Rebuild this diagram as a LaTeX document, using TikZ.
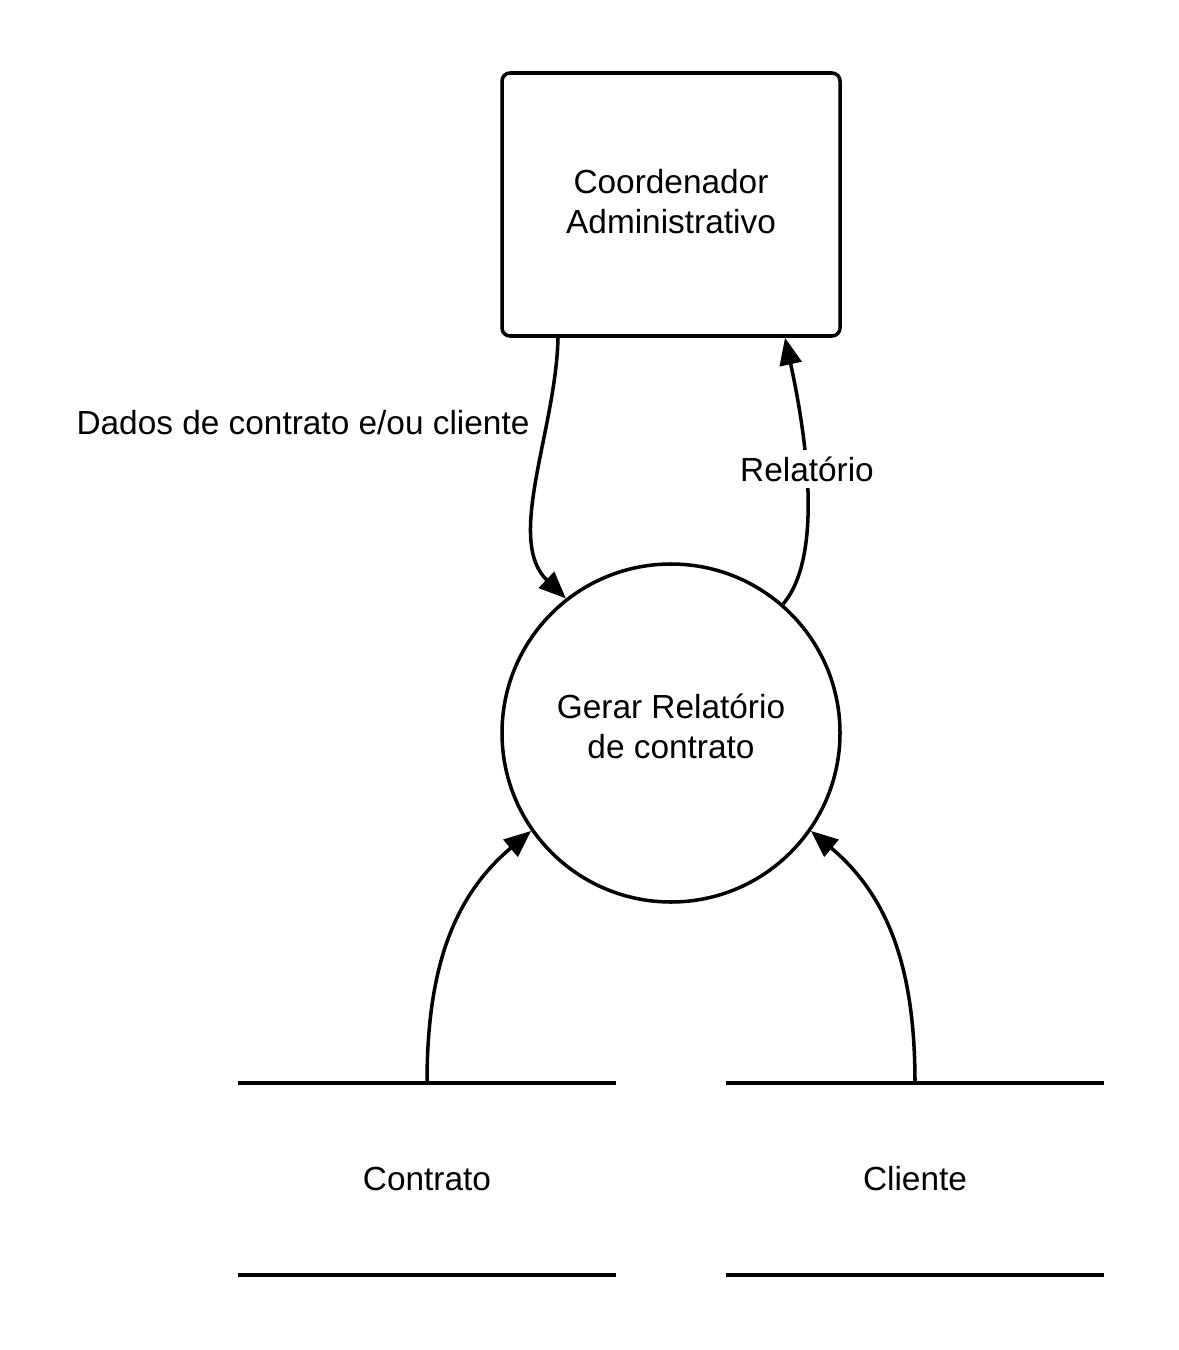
\documentclass[tikz,border=0pt]{standalone}
\usepackage{fontspec}
\setmainfont{Liberation Sans}
\usetikzlibrary{arrows.meta}
\tikzstyle{entity}=[rectangle,draw,rounded corners=0.16cm,minimum width=6.76cm,minimum height=5.26cm,align=center]
\tikzstyle{process}=[circle,draw,minimum size=6.76cm,align=center]
\tikzstyle{store}=[rectangle,minimum width=7.48cm,minimum height=3.76cm]
\tikzstyle{flow}=[-{Triangle[length=0.54cm,width=0.44cm]}]

\begin{document}
\begin{tikzpicture}[line width=2pt,font=\fontsize{19}{23}\selectfont]
\useasboundingbox (0,0) rectangle (23.56,-27);
\node[entity,text depth=0.12cm] (coord) at (13.42,-4.09) {Coordenador\\Administrativo};
\node[process,text depth=0.28cm] (proc) at (13.42,-14.66) {Gerar Relatório\\de contrato};

\node[store] (contrato) at (8.54,-23.58) {Contrato};
\draw (contrato.north west) -- (contrato.north east);
\draw (contrato.south west) -- (contrato.south east);
\node[store] (cliente) at (18.3,-23.58) {Cliente};
\draw (cliente.north west) -- (cliente.north east);
\draw (cliente.south west) -- (cliente.south east);

\draw[flow] ([xshift=-2.26cm] coord.south) .. controls (11.12,-8.6) and (10.1,-10.8) .. (proc.128);
\node (dados) at (6.06,-8.46) {Dados de contrato e/ou cliente};
\draw[flow] (proc.49) .. controls (16.5,-11.1) and (16.1,-8.6) .. ([xshift=2.28cm] coord.south);
\node[fill=white,inner sep=4pt] (rel) at (16.14,-9.38) {Relatório};

\draw[flow] (contrato.north) to[out=90,in=-140] (proc.-145);
\draw[flow] (cliente.north) to[out=90,in=-40] (proc.-35);
\end{tikzpicture}
\end{document}
